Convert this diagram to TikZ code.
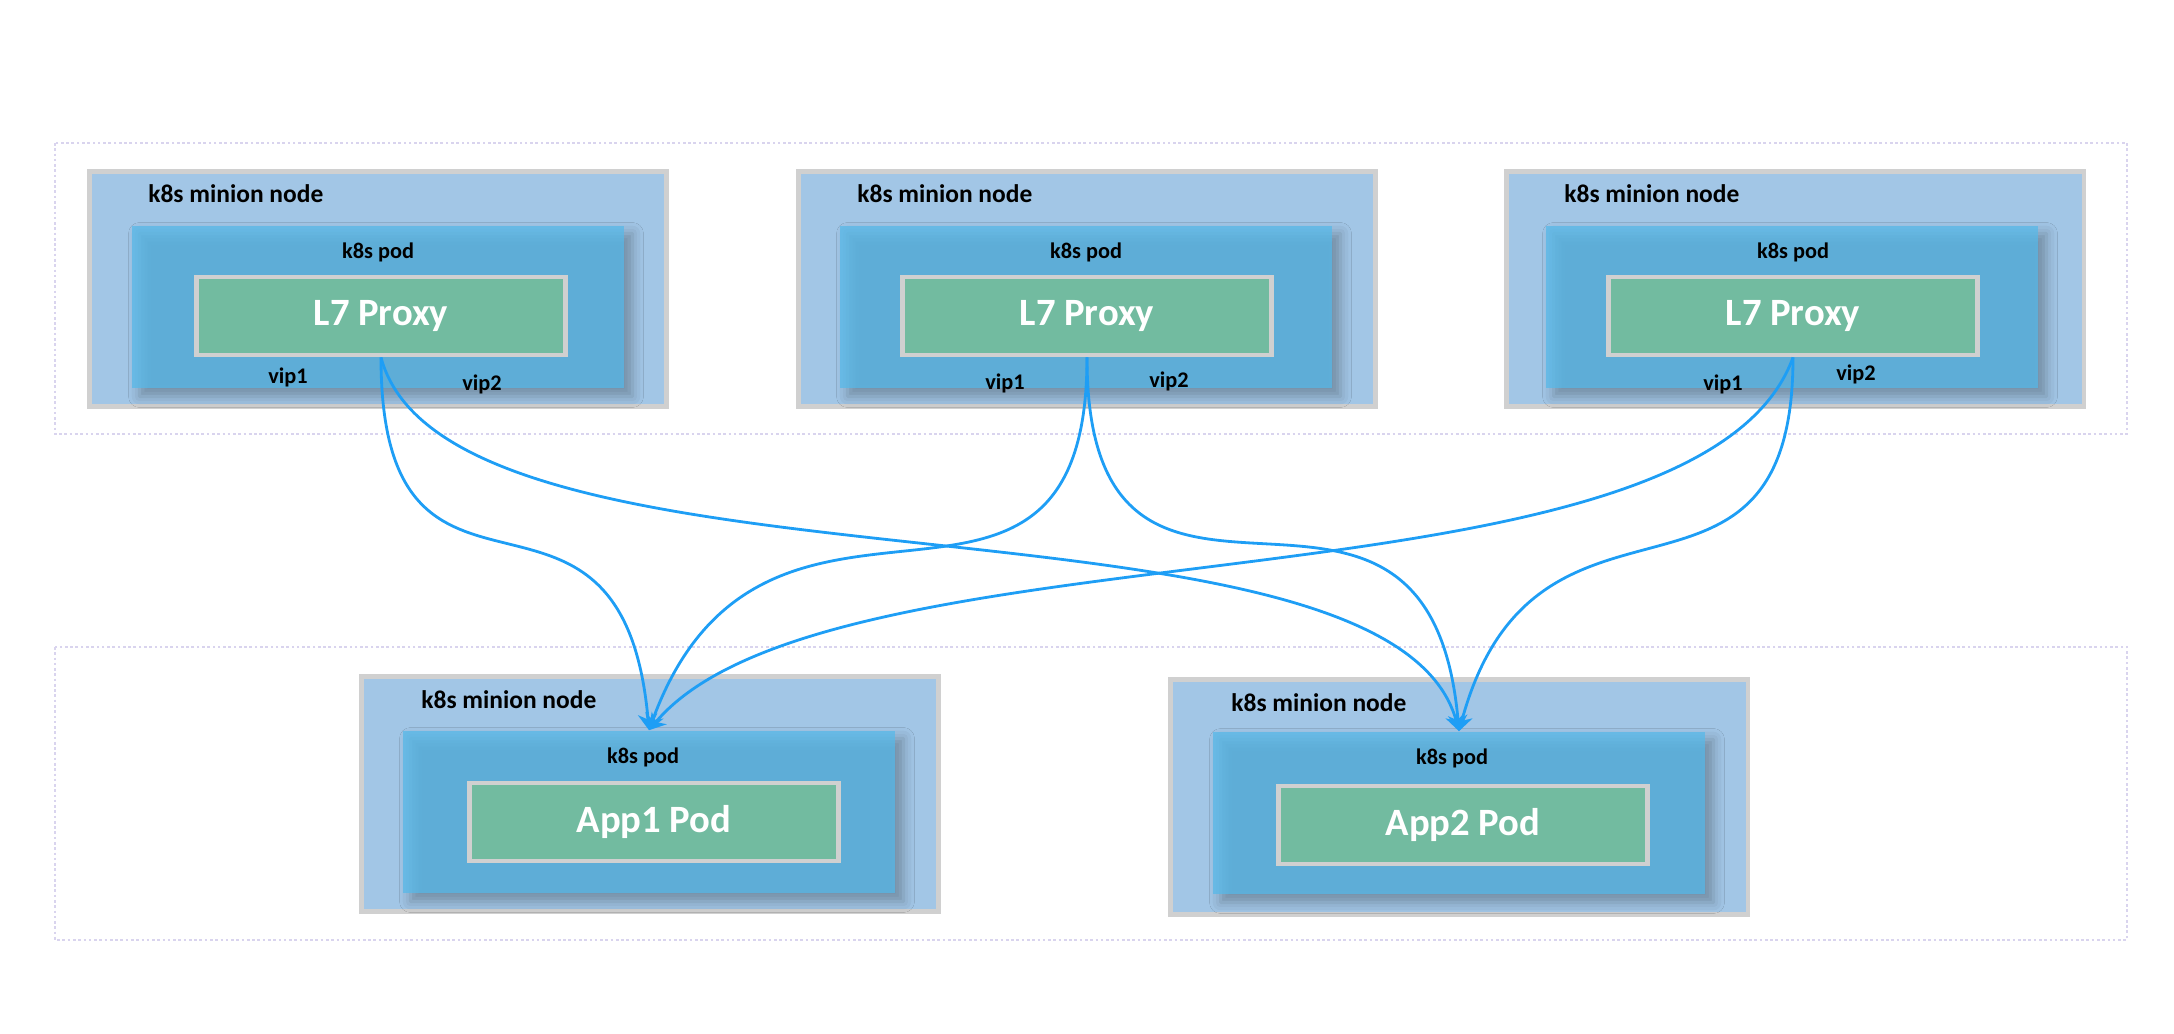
\documentclass[tikz,border=0pt]{standalone}
\usepackage{fontspec}
\setmainfont{Carlito}
\usetikzlibrary{arrows.meta,shadows.blur}
\definecolor{nodeblue}{HTML}{A2C6E6}
\definecolor{podblue}{HTML}{57B9E9}
\definecolor{proxygreen}{HTML}{72BBA0}
\definecolor{framegray}{HTML}{D0D0D0}
\definecolor{linkblue}{HTML}{1E9EF5}
\definecolor{zonelilac}{HTML}{D9D4EE}
\tikzset{
  zone/.style={draw=zonelilac, line width=0.6pt, dash pattern=on 1.5pt off 1.5pt},
  minion/.style={draw=framegray, line width=2.8pt, fill=nodeblue, minimum width=11.56cm, minimum height=4.7cm, inner sep=0pt},
  pod/.style={fill=podblue, fill opacity=0.75, minimum width=9.86cm, minimum height=3.26cm, inner sep=0pt,
    blur shadow={shadow xshift=0.16cm, shadow yshift=-0.16cm, shadow blur radius=0.22cm, shadow opacity=38}},
  box/.style={draw=framegray, line width=2.8pt, fill=proxygreen, text=white, minimum width=7.38cm, minimum height=1.56cm, font=\fontsize{22}{24}\selectfont\bfseries},
  caption/.style={font=\fontsize{14.5}{16}\selectfont\bfseries, inner sep=0pt},
  small/.style={font=\fontsize{12.7}{14}\selectfont\bfseries, inner sep=0pt},
  link/.style={draw=linkblue, line width=1.6pt, -{Stealth[length=9pt,width=11pt]}}
}
\begin{document}
\begin{tikzpicture}[x=0.02cm,y=-0.02cm]
\useasboundingbox (0,0) rectangle (2174,1034);
% the two zones
\draw[zone] (55,143) rectangle (2127,434);
\draw[zone] (55,647) rectangle (2127,940);
% proxy minions
\node[minion] (m1) at (378,289) {};
\node[minion] (m2) at (1087,289) {};
\node[minion] (m3) at (1795,289) {};
\node[pod] (pod1) at (378,307) {};
\node[pod] (pod2) at (1086,307) {};
\node[pod] (pod3) at (1792,307) {};
\node[box] (p1) at (381,316) {L7 Proxy};
\node[box] (p2) at (1087,316) {L7 Proxy};
\node[box] (p3) at (1793,316) {L7 Proxy};
\node[caption, anchor=west] (c1) at (148,194) {k8s minion node};
\node[caption, anchor=west] (c2) at (857,194) {k8s minion node};
\node[caption, anchor=west] (c3) at (1564,194) {k8s minion node};
\node[small] (k1) at (378,252) {k8s pod};
\node[small] (k2) at (1086,252) {k8s pod};
\node[small] (k3) at (1793,252) {k8s pod};
\node[small] (v11) at (288,377) {vip1};
\node[small] (v12) at (482,384) {vip2};
\node[small] (v21) at (1005,383) {vip1};
\node[small] (v22) at (1169,381) {vip2};
\node[small] (v31) at (1723,384) {vip1};
\node[small] (v32) at (1856,374) {vip2};
% app minions
\node[minion] (mb1) at (650,794) {};
\node[minion] (mb2) at (1459,797) {};
\node[pod] (pb1) at (649,812) {};
\node[pod] (pb2) at (1459,813) {};
\node[box] (a1) at (654,822) {App1 Pod};
\node[box] (a2) at (1463,825) {App2 Pod};
\node[caption, anchor=west] (cb1) at (421,700) {k8s minion node};
\node[caption, anchor=west] (cb2) at (1231,703) {k8s minion node};
\node[small] (kb1) at (643,757) {k8s pod};
\node[small] (kb2) at (1452,758) {k8s pod};
% links
\draw[link] (p1.south) to[out=-90,in=95,looseness=1.7] (pb1.north);
\draw[link] (p1.south) to[out=-75,in=105,looseness=0.6] (pb2.north);
\draw[link] (p2.south) to[out=-90,in=70,looseness=1.5] (pb1.north);
\draw[link] (p2.south) to[out=-90,in=95,looseness=1.7] (pb2.north);
\draw[link] (p3.south) to[out=-110,in=50,looseness=0.6] (pb1.north);
\draw[link] (p3.south) to[out=-90,in=75,looseness=1.5] (pb2.north);
\end{tikzpicture}
\end{document}
